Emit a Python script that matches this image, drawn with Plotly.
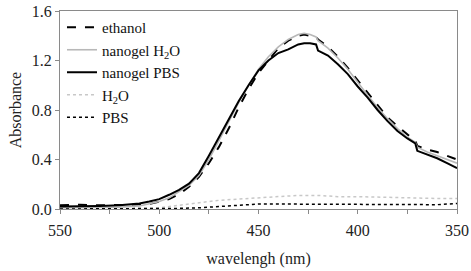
import plotly.graph_objects as go

wl = [550, 540, 530, 520, 510, 505, 500, 495, 490, 485, 480, 475, 470, 465, 460, 455, 450,
      445, 440, 435, 430, 427, 424, 421, 420, 415, 410, 405, 400, 395, 390, 385, 380, 375,
      371, 370, 365, 360, 355, 350]

ethanol = [0.03, 0.035, 0.03, 0.03, 0.035, 0.04, 0.06, 0.08, 0.12, 0.18, 0.26, 0.37, 0.50,
           0.65, 0.82, 0.97, 1.10, 1.20, 1.30, 1.36, 1.40, 1.41, 1.40, 1.39, 1.37, 1.31,
           1.23, 1.14, 1.04, 0.94, 0.84, 0.74, 0.67, 0.60, 0.55, 0.51, 0.48, 0.46, 0.43, 0.40]

nanogel_h2o = [0.01, 0.01, 0.01, 0.015, 0.025, 0.04, 0.06, 0.09, 0.14, 0.19, 0.27, 0.40, 0.55,
               0.71, 0.86, 1.00, 1.13, 1.23, 1.31, 1.37, 1.41, 1.42, 1.41, 1.39, 1.36, 1.30,
               1.22, 1.13, 1.02, 0.92, 0.82, 0.73, 0.65, 0.58, 0.54, 0.50, 0.46, 0.43, 0.40, 0.37]

nanogel_pbs = [0.02, 0.02, 0.025, 0.03, 0.045, 0.06, 0.08, 0.115, 0.155, 0.205, 0.29, 0.43,
               0.58, 0.73, 0.87, 1.00, 1.12, 1.20, 1.26, 1.29, 1.33, 1.34, 1.34, 1.33, 1.28,
               1.24, 1.17, 1.09, 0.99, 0.90, 0.80, 0.71, 0.63, 0.57, 0.53, 0.47, 0.44, 0.41,
               0.37, 0.33]

wl_base = [550, 520, 505, 500, 490, 480, 470, 460, 450, 440, 430, 420, 410, 400, 390, 380,
           370, 360, 350]
h2o = [0.0, 0.0, 0.005, 0.01, 0.03, 0.05, 0.07, 0.08, 0.09, 0.10, 0.11, 0.11, 0.10, 0.10,
       0.095, 0.09, 0.09, 0.085, 0.085]
pbs = [0.0, 0.0, 0.0, 0.0, 0.005, 0.01, 0.02, 0.03, 0.04, 0.04, 0.04, 0.035, 0.035, 0.035,
       0.04, 0.04, 0.035, 0.035, 0.045]

x_ticks = [550, 500, 450, 400, 350]
y_ticks = [0.0, 0.4, 0.8, 1.2, 1.6]

FONT = "Liberation Serif"

fig = go.Figure()
fig.add_trace(go.Scatter(x=wl, y=ethanol, mode="lines", name="ethanol",
                         line=dict(color="black", width=2, dash="dash")))
fig.add_trace(go.Scatter(x=wl, y=nanogel_h2o, mode="lines", name="nanogel H<sub>2</sub>O",
                         line=dict(color="#b8b8b8", width=1.6)))
fig.add_trace(go.Scatter(x=wl, y=nanogel_pbs, mode="lines", name="nanogel PBS",
                         line=dict(color="black", width=2)))
fig.add_trace(go.Scatter(x=wl_base, y=h2o, mode="lines", name="H<sub>2</sub>O",
                         line=dict(color="#c8c8c8", width=1.5, dash="dot")))
fig.add_trace(go.Scatter(x=wl_base, y=pbs, mode="lines", name="PBS",
                         line=dict(color="black", width=1.5, dash="dot")))

fig.update_layout(
    width=471, height=271,
    margin=dict(l=60, r=14, t=11, b=62),
    paper_bgcolor="white", plot_bgcolor="white",
    font=dict(family=FONT, size=15, color="#222"),
    showlegend=True,
    legend=dict(x=0.005, y=1.0, xanchor="left", yanchor="top",
                bgcolor="rgba(0,0,0,0)", font=dict(family=FONT, size=15, color="#111"),
                tracegroupgap=0, itemwidth=30),
    xaxis=dict(range=[550, 350], tickvals=x_ticks, ticktext=[str(v) for v in x_ticks],
               showgrid=False, zeroline=False, showline=True, linecolor="#8a8a8a",
               linewidth=1.2, mirror=True, ticks="outside", ticklen=4, tickcolor="#8a8a8a",
               minor=dict(dtick=25, ticks="outside", ticklen=4, tickcolor="#8a8a8a"),
               ticklabelstandoff=3, automargin=False,
               title=dict(text="wavelengh (nm)", standoff=14, font=dict(family=FONT, size=16)),
               tickfont=dict(family=FONT, size=16)),
    yaxis=dict(range=[0, 1.6], tickvals=y_ticks, ticktext=[f"{v:.1f}" for v in y_ticks],
               showgrid=False, zeroline=False, showline=True, linecolor="#8a8a8a",
               linewidth=1.2, mirror=True, ticks="outside", ticklen=4, tickcolor="#8a8a8a",
               automargin=False,
               title=dict(text="Absorbance", standoff=6, font=dict(family=FONT, size=16)),
               tickfont=dict(family=FONT, size=16)),
)

fig.write_html("out.html", config={"displayModeBar": False},
               post_script="document.body.style.margin='0';document.body.style.padding='0';")
